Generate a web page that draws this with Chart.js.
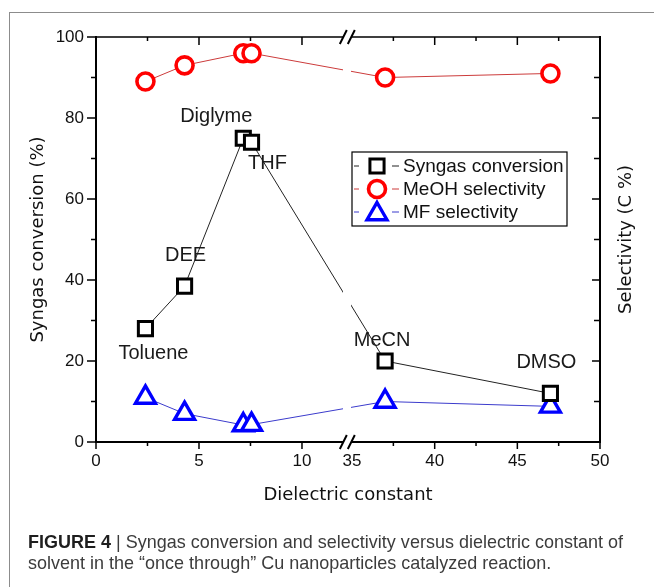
<!DOCTYPE html>
<html>
<head>
<meta charset="utf-8">
<script src="https://cdn.jsdelivr.net/npm/chart.js@4.4.1/dist/chart.umd.min.js"></script>
<style>
  html, body { margin: 0; padding: 0; background: #fff; }
  #wrap { position: relative; width: 654px; height: 587px; overflow: hidden; }
  #frame { position: absolute; left: 9px; top: 12px; right: -2px; bottom: -2px;
           border-top: 1px solid #8c8c8c; border-left: 1px solid #8c8c8c; }
  canvas { position: absolute; left: 0; top: 0; }
  .cap { position: absolute; left: 28px; white-space: nowrap; line-height: 21px;
         font-family: "Liberation Sans", Arial, sans-serif; font-size: 19px;
         color: #3c3c3c; transform-origin: 0 0; }
  .cap b { color: #1e1e1e; }
</style>
</head>
<body>
<div id="wrap">
  <div id="frame"></div>
  <canvas id="chart" width="654" height="587"></canvas>
  <div class="cap" id="cap1" style="top:531px"><b>FIGURE 4</b> | Syngas conversion and selectivity versus dielectric constant of</div>
  <div class="cap" id="cap2" style="top:552px">solvent in the “once through” Cu nanoparticles catalyzed reaction.</div>
</div>
<script>
// values
const SOLVENTS = ["Toluene", "DEE", "Diglyme", "THF", "MeCN", "DMSO"];
const DIELECTRIC = [2.4, 4.3, 7.15, 7.55, 37, 47];
const SYNGAS_CONV = [28, 38.5, 75, 74, 20, 12];
const MEOH_SEL = [89, 93, 96, 96, 90, 91];
const MF_SEL = [11, 7, 4.2, 4.3, 10, 8.8];

const X_TICKS = [0, 5, 10, 35, 40, 45, 50];
const X_MINOR = [2.5, 7.5, 37.5, 42.5, 47.5];
const Y_TICKS = [0, 20, 40, 60, 80, 100];
const Y_MINOR = [10, 30, 50, 70, 90];
const X_BREAK = [12.2, 35];   // axis jumps from 12.2 straight to 35

const X_TITLE = "Dielectric constant";
const Y_TITLE = "Syngas conversion (%)";
const Y2_TITLE = "Selectivity (C %)";

// broken linear axis: second segment squeezed a bit, tiny gap at the break
const GAP = 0.23;
const SEG2 = 0.8025;
const VMAX = X_BREAK[0] + GAP + (50 - X_BREAK[1]) * SEG2;

function toVirtual(v) {
  if (v <= X_BREAK[0]) return v;
  if (v < X_BREAK[1]) return X_BREAK[0] + GAP / 2;
  return X_BREAK[0] + GAP + (v - X_BREAK[1]) * SEG2;
}
function fromVirtual(t) {
  if (t <= X_BREAK[0]) return t;
  return X_BREAK[1] + (t - X_BREAK[0] - GAP) / SEG2;
}

class BrokenScale extends Chart.LinearScale {
  static id = "broken";
  static defaults = Chart.LinearScale.defaults;
  getPixelForValue(value) {
    return this.getPixelForDecimal(toVirtual(value) / VMAX);
  }
  getValueForPixel(pixel) {
    return fromVirtual(this.getDecimalForPixel(pixel) * VMAX);
  }
}
Chart.register(BrokenScale);

const points = ys => DIELECTRIC.map((x, i) => ({ x: x, y: ys[i] }));

const tickFont = { family: "'Liberation Sans', Arial, sans-serif", size: 17 };
const titleFont = { family: "'DejaVu Sans', sans-serif", size: 18 };
const LABEL_OFFSETS = [[8, 25], [1, -31], [-27, -22], [16, 21], [-3, -21], [-4, -31]];

const decor = {
  id: "decor",
  afterDatasetsDraw(chart) {
    const { ctx, chartArea: a, scales: { x, y } } = chart;
    const bx = x.getPixelForValue(X_BREAK[0]);
    ctx.save();

    // open the break through lines and axes
    ctx.clearRect(bx - 4, a.top - 3, 8, a.bottom - a.top + 6);

    ctx.strokeStyle = "#000";
    ctx.lineWidth = 1.5;
    ctx.beginPath();
    ctx.moveTo(a.left - 1, a.top); ctx.lineTo(bx - 4, a.top);
    ctx.moveTo(bx + 4, a.top); ctx.lineTo(a.right + 1, a.top);

    // ticks: bottom/left outward, top/right inward
    X_TICKS.forEach(v => {
      if (v === X_BREAK[1]) return;
      const px = x.getPixelForValue(v);
      ctx.moveTo(px, a.bottom); ctx.lineTo(px, a.bottom + 7);
      ctx.moveTo(px, a.top); ctx.lineTo(px, a.top + 8);
    });
    X_MINOR.forEach(v => {
      const px = x.getPixelForValue(v);
      ctx.moveTo(px, a.bottom); ctx.lineTo(px, a.bottom + 4);
      ctx.moveTo(px, a.top); ctx.lineTo(px, a.top + 4);
    });
    Y_TICKS.forEach(v => {
      const py = y.getPixelForValue(v);
      ctx.moveTo(a.left, py); ctx.lineTo(a.left - 9, py);
      ctx.moveTo(a.right, py); ctx.lineTo(a.right - 8, py);
    });
    Y_MINOR.forEach(v => {
      const py = y.getPixelForValue(v);
      ctx.moveTo(a.left, py); ctx.lineTo(a.left - 5, py);
      ctx.moveTo(a.right, py); ctx.lineTo(a.right - 6, py);
    });
    ctx.stroke();

    // break marks //
    ctx.lineWidth = 2;
    ctx.beginPath();
    [a.top, a.bottom].forEach(yy => {
      [-4, 4].forEach(d => {
        ctx.moveTo(bx + d - 3.5, yy + 7);
        ctx.lineTo(bx + d + 3.5, yy - 7);
      });
    });
    ctx.stroke();

    // solvent names beside the conversion points
    const meta = chart.getDatasetMeta(0);
    ctx.font = "20px 'Liberation Sans', Arial, sans-serif";
    ctx.fillStyle = "#1a1a1a";
    ctx.textAlign = "center";
    ctx.textBaseline = "middle";
    SOLVENTS.forEach((name, i) => {
      const p = meta.data[i];
      const [dx, dy] = LABEL_OFFSETS[i];
      ctx.fillText(name, p.x + dx, p.y + dy);
    });

    // right axis title, reads bottom to top
    ctx.save();
    ctx.translate(626, (a.top + a.bottom) / 2);
    ctx.rotate(-Math.PI / 2);
    ctx.font = "18px 'DejaVu Sans', sans-serif";
    ctx.fillStyle = "#111";
    ctx.fillText(Y2_TITLE, 0, 0);
    ctx.restore();

    // legend box
    const lx = a.left + 256, ly = a.top + 115;
    ctx.lineWidth = 1.2;
    ctx.strokeStyle = "#000";
    ctx.strokeRect(lx, ly, 215, 74);
    chart.data.datasets.forEach((ds, i) => {
      const cy = ly + 14 + i * 23;
      ctx.strokeStyle = ds.borderColor;
      ctx.lineWidth = 1;
      ctx.beginPath();
      ctx.moveTo(lx + 2, cy); ctx.lineTo(lx + 7, cy);
      ctx.moveTo(lx + 40, cy); ctx.lineTo(lx + 47, cy);
      ctx.stroke();
      ctx.fillStyle = "#fff";
      ctx.strokeStyle = ds.pointBorderColor;
      ctx.lineWidth = ds.pointBorderWidth;
      Chart.helpers.drawPoint(ctx, {
        pointStyle: ds.pointStyle, radius: ds.pointRadius,
        borderWidth: ds.pointBorderWidth, rotation: 0
      }, lx + 25, cy + (ds.pointStyle === "triangle" ? 2 : 0));
      ctx.fillStyle = "#111";
      ctx.font = "19px 'Liberation Sans', Arial, sans-serif";
      ctx.textAlign = "left";
      ctx.fillText(ds.label, lx + 51, cy + 1);
    });
    ctx.restore();
  }
};

new Chart(document.getElementById("chart"), {
  type: "line",
  data: {
    datasets: [
      {
        label: "Syngas conversion",
        data: points(SYNGAS_CONV),
        yAxisID: "y",
        borderColor: "#222",
        borderWidth: 1,
        pointStyle: "rect",
        pointRadius: 10,
        pointBorderWidth: 3,
        pointBorderColor: "#000",
        pointBackgroundColor: "#fff"
      },
      {
        label: "MeOH selectivity",
        data: points(MEOH_SEL),
        yAxisID: "y2",
        borderColor: "#cc3b3b",
        borderWidth: 1,
        pointStyle: "circle",
        pointRadius: 8.5,
        pointBorderWidth: 3.6,
        pointBorderColor: "#ff0000",
        pointBackgroundColor: "#fff"
      },
      {
        label: "MF selectivity",
        data: points(MF_SEL),
        yAxisID: "y2",
        borderColor: "#3b3bcc",
        borderWidth: 1,
        pointStyle: "triangle",
        pointRadius: 11.5,
        pointBorderWidth: 3.4,
        pointBorderColor: "#0000ff",
        pointBackgroundColor: "#fff"
      }
    ]
  },
  options: {
    responsive: false,
    animation: false,
    layout: { padding: { top: 37, left: 0, right: 0, bottom: 0 } },
    plugins: { legend: { display: false }, tooltip: { enabled: false } },
    scales: {
      x: {
        type: "broken",
        position: "bottom",
        min: 0,
        max: 50,
        afterBuildTicks: s => { s.ticks = X_TICKS.map(v => ({ value: v })); },
        afterFit: s => { s.height = 145; },
        ticks: { font: tickFont, color: "#111", padding: 9, autoSkip: false, maxRotation: 0, callback: v => String(v) },
        grid: { display: true, drawOnChartArea: false, drawTicks: false },
        border: { display: true, color: "#000", width: 2 },
        title: { display: true, text: X_TITLE, font: titleFont, color: "#111", padding: { top: 0, bottom: 81 } }
      },
      y: {
        position: "left",
        min: 0,
        max: 100,
        afterBuildTicks: s => { s.ticks = Y_TICKS.map(v => ({ value: v })); },
        afterFit: s => { s.width = 96; },
        ticks: { font: tickFont, color: "#111", padding: 12 },
        grid: { display: true, drawOnChartArea: false, drawTicks: false },
        border: { display: true, color: "#000", width: 2 },
        title: { display: true, text: Y_TITLE, font: titleFont, color: "#111", padding: { top: 28, bottom: 0 } }
      },
      y2: {
        position: "right",
        min: 0,
        max: 100,
        afterFit: s => { s.width = 54; },
        ticks: { display: false },
        grid: { display: true, drawOnChartArea: false, drawTicks: false },
        border: { display: true, color: "#000", width: 2 }
      }
    }
  },
  plugins: [decor]
});

// squeeze the caption to the width of the original's condensed face
function fitCaption() {
  const c1 = document.getElementById("cap1"), c2 = document.getElementById("cap2");
  c1.style.transform = c2.style.transform = "none";
  const s = 595 / c1.getBoundingClientRect().width;
  c1.style.transform = c2.style.transform = "scaleX(" + s + ")";
}
fitCaption();
if (document.fonts) document.fonts.ready.then(fitCaption);
</script>
</body>
</html>
